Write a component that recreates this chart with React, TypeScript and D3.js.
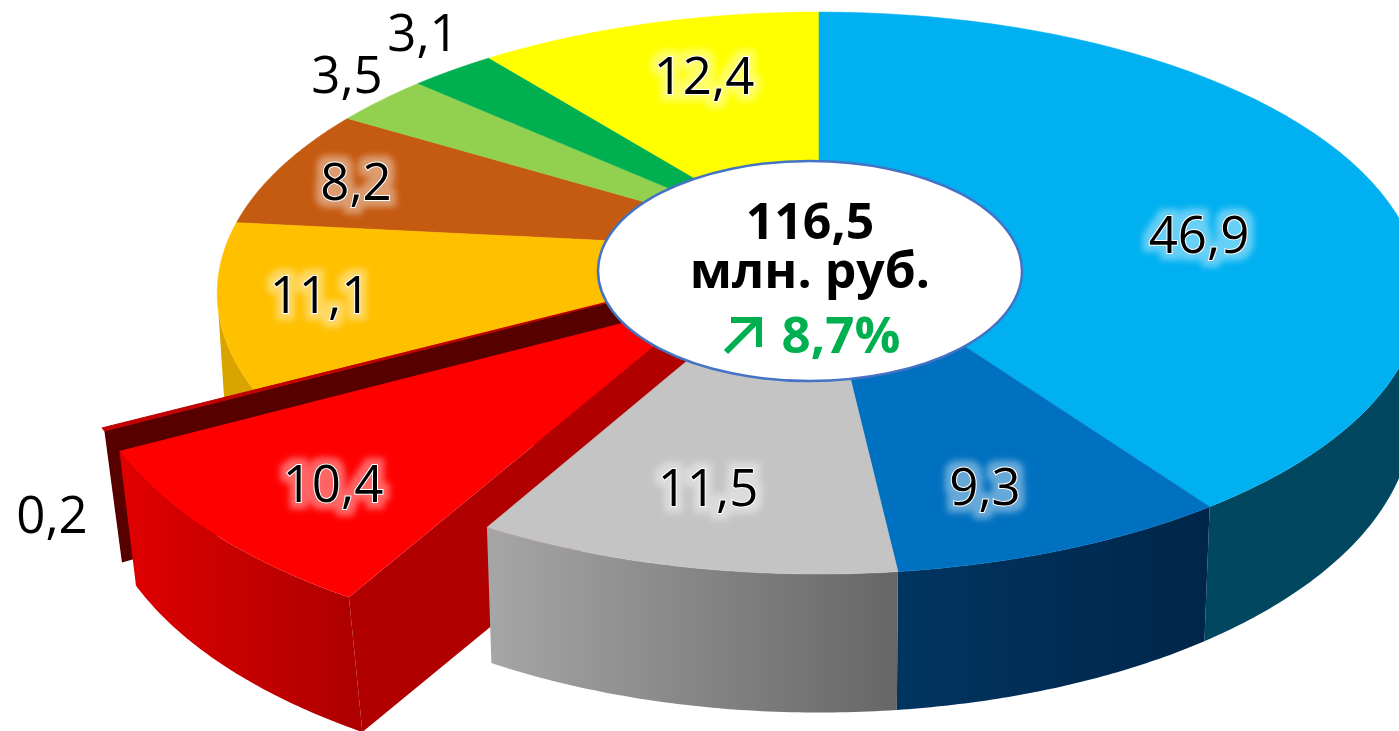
import * as d3 from 'd3';

// values in clockwise order from 12 o'clock
const labels = ['46,9', '9,3', '11,5', '10,4', '0,2', '11,1', '8,2', '3,5', '3,1', '12,4'];
const values = [46.9, 9.3, 11.5, 10.4, 0.2, 11.1, 8.2, 3.5, 3.1, 12.4];
const colors = ['#00B0F0', '#0070C0', '#C4C4C4', '#FF0000', '#C00000', '#FFC000', '#C55A11', '#92D050', '#00B050', '#FFFF00'];

const totalLines = ['116,5', 'млн. руб.'];
const changeLabel = '8,7%';

// label centres on the page
const labelX = [1199, 985, 708, 333, 52, 320, 356, 347, 423, 704];
const labelY = [235, 487, 488, 484, 515, 295, 182, 75, 33, 76];

const WIDTH = 1399;
const HEIGHT = 731;
const FONT = '"Open Sans", "Noto Sans", sans-serif';

// perspective of the disc: w = 1 + k*v with v pointing away from the viewer
const CX = 819;
const K = 0.1495;
const top = { a: 251, b: -237.2, d: 595 };
const bottom = { a: 370, b: -236, d: 587 };

type Plane = typeof top;
type Pt = [number, number];

function project(p: Plane, angle: number, r = 1): Pt {
  const u = Math.sin(angle) * r;
  const v = Math.cos(angle) * r;
  const w = 1 + K * v;
  return [CX + (p.d * u) / w, (p.a + p.b * v) / w];
}

const line = d3.line<Pt>().curve(d3.curveLinear);

function rim(p: Plane, a0: number, a1: number, shift: (t: number) => Pt = () => [0, 0]): Pt[] {
  const n = 60;
  return d3.range(n + 1).map((i) => {
    const t = i / n;
    const q = project(p, a0 + (a1 - a0) * t);
    const s = shift(t);
    return [q[0] + s[0], q[1] + s[1]] as Pt;
  });
}

const arcs = d3.pie<number>().sort(null).value((d) => d)(values);
const deg = Math.PI / 180;

// offsets of the pulled-out slices
const redTop = (t: number): Pt => [-138, 70 - 13 * t];
const redBottom = (t: number): Pt => [-129, 69 - 5 * t];
const redApex: Pt = [-110, 50];
const redApexLow: Pt = [-110, 77];
const thinTop = (): Pt => [-153, 37];
const thinBottom = (): Pt => [-143, 41];
const thinApex: Pt = [-119, 28];

function add(a: Pt, b: Pt): Pt {
  return [a[0] + b[0], a[1] + b[1]];
}

export default function App() {
  const apex = project(top, 0, 0);
  const apexLow = project(bottom, 0, 0);
  const [blue, dark, gray, red, thin, orange] = arcs;

  const slicePath = (i: number) => line([apex, ...rim(top, arcs[i].startAngle, arcs[i].endAngle)]) + 'Z';
  const wallPath = (a0: number, a1: number) =>
    line([...rim(top, a0, a1), ...rim(bottom, a0, a1).reverse()]) + 'Z';

  // red slice
  const redTopRim = rim(top, red.startAngle, red.endAngle, redTop);
  const redBottomRim = rim(bottom, red.startAngle, red.endAngle, redBottom);
  const redCentre = add(apex, redApex);
  const redCentreLow = add(apexLow, redApexLow);

  // thin slice
  const thinRim = rim(top, thin.startAngle, thin.endAngle, thinTop);
  const thinCentre = add(apex, thinApex);
  const thinLowOuter = add(project(bottom, thin.startAngle), thinBottom());
  const thinCentreLow = add(apexLow, thinApex);

  const backOrder = [6, 7, 8, 9];

  return (
    <svg
      width={WIDTH}
      height={HEIGHT}
      viewBox={`0 0 ${WIDTH} ${HEIGHT}`}
      style={{ position: 'absolute', left: 0, top: 0, display: 'block', background: '#fff' }}
    >
      <defs>
        <linearGradient id="grayWall" gradientUnits="userSpaceOnUse" x1={488} x2={898} y1={0} y2={0}>
          <stop offset="0" stopColor="#A6A6A6" />
          <stop offset="1" stopColor="#666666" />
        </linearGradient>
        <linearGradient id="darkWall" gradientUnits="userSpaceOnUse" x1={898} x2={1210} y1={0} y2={0}>
          <stop offset="0" stopColor="#003561" />
          <stop offset="1" stopColor="#00264A" />
        </linearGradient>
        <linearGradient id="redWall" gradientUnits="userSpaceOnUse" x1={125} x2={350} y1={0} y2={0}>
          <stop offset="0" stopColor="#E00000" />
          <stop offset="1" stopColor="#AE0000" />
        </linearGradient>
        <filter id="glow" x="-30%" y="-40%" width="160%" height="180%">
          <feMorphology in="SourceAlpha" operator="dilate" radius="6" result="fat" />
          <feGaussianBlur in="fat" stdDeviation="3" result="blur" />
          <feFlood floodColor="#fff" floodOpacity="0.4" />
          <feComposite in2="blur" operator="in" result="halo" />
          <feMerge>
            <feMergeNode in="halo" />
            <feMergeNode in="SourceGraphic" />
          </feMerge>
        </filter>
      </defs>

      {/* back slices */}
      {backOrder.map((i) => (
        <path key={i} d={slicePath(i)} fill={colors[i]} stroke={colors[i]} strokeWidth={0.5} />
      ))}
      <path d={wallPath(orange.startAngle, 261 * deg)} fill="#D9A300" />
      <path d={slicePath(5)} fill={colors[5]} stroke={colors[5]} strokeWidth={0.5} />

      {/* thin pulled-out slice */}
      <path d={line([thinCentre, thinRim[0], thinLowOuter, thinCentreLow]) + 'Z'} fill="#560000" />
      <path d={line([thinCentre, ...thinRim]) + 'Z'} fill={colors[4]} stroke={colors[4]} strokeWidth={1} />

      {/* red pulled-out slice */}
      <path d={line([redCentre, redTopRim[0], redBottomRim[0], redCentreLow]) + 'Z'} fill="#B00000" />
      <path d={line([...redTopRim, ...[...redBottomRim].reverse()]) + 'Z'} fill="url(#redWall)" />
      <path d={line([redCentre, ...redTopRim]) + 'Z'} fill={colors[3]} />

      {/* front walls */}
      <path d={wallPath(99 * deg, blue.endAngle)} fill="#00475F" />
      <path d={wallPath(dark.startAngle, dark.endAngle)} fill="url(#darkWall)" />
      <path d={wallPath(gray.startAngle, gray.endAngle)} fill="url(#grayWall)" />

      {/* front slices */}
      {[0, 1, 2].map((i) => (
        <path key={i} d={slicePath(i)} fill={colors[i]} stroke={colors[i]} strokeWidth={0.5} />
      ))}

      {/* centre */}
      <ellipse cx={810} cy={271} rx={212} ry={110} fill="#fff" stroke="#4472C4" strokeWidth={2.5} />
      <g fontFamily={FONT} fontWeight={700} fontSize={50} textAnchor="middle" fill="#000">
        <text x={810} y={239}>{totalLines[0]}</text>
        <text x={810} y={288}>{totalLines[1]}</text>
        <text x={841} y={353} fill="#00B050" fontSize={51}>{changeLabel}</text>
      </g>
      <path d="M726,352 L757,321 M731,320 H759 V347" fill="none" stroke="#00B050" strokeWidth={6} />

      {/* value labels */}
      <g fontFamily={FONT} fontWeight={500} fontSize={51} textAnchor="middle" fill="#000">
        {labels.map((t, i) => (
          <text
            key={t}
            x={labelX[i]}
            y={labelY[i] + 18}
            filter="url(#glow)"
            stroke="#fff"
            strokeWidth={2}
            paintOrder="stroke"
          >
            {t}
          </text>
        ))}
      </g>
    </svg>
  );
}
